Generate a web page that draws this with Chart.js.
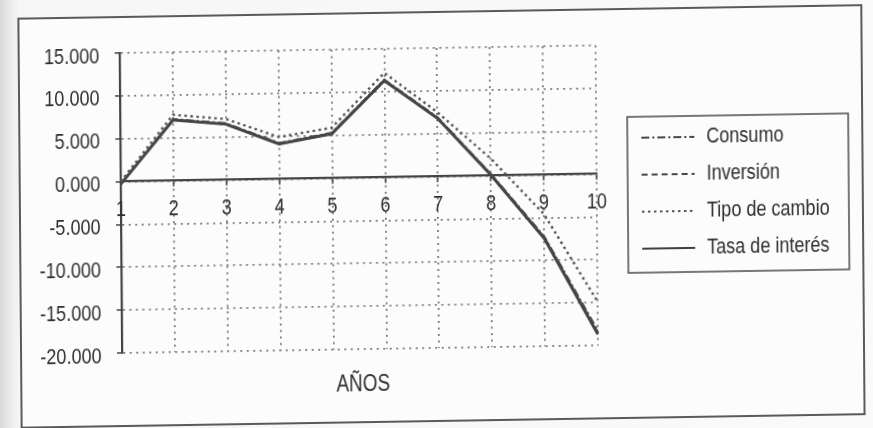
<!DOCTYPE html>
<html>
<head>
<meta charset="utf-8">
<script src="https://cdn.jsdelivr.net/npm/chart.js@4.4.1/dist/chart.umd.min.js"></script>
<style>
  html, body { margin: 0; padding: 0; }
  body {
    width: 873px; height: 428px; overflow: hidden;
    background: linear-gradient(to right, #d9d9d9 0px, #e9e9e9 9px, #f6f6f6 20px, #fafafa 100%);
  }
  #wrap {
    position: absolute; left: 0; top: 0; width: 873px; height: 428px;
    transform-origin: 436.5px 214px;
    transform: matrix(1, -0.016, 0.008, 1, 0, 0);
  }
  canvas { display: block; }
</style>
</head>
<body>
<div id="wrap"><canvas id="chart" width="873" height="428"></canvas></div>
<script>
// Años 1..10
const years = ['1', '2', '3', '4', '5', '6', '7', '8', '9', '10'];

// Respuesta de cada variable
const consumo      = [-0.3, 7.2, 6.6, 4.2, 5.3, 11.4, 6.9, 0.2, -7.2, -18.3];
const inversion    = [-0.3, 7.1, 6.5, 4.1, 5.2, 11.3, 6.8, 0.1, -7.3, -18.5];
const tipoCambio   = [0.0, 7.7, 7.1, 4.9, 5.9, 12.2, 7.5, 2.0, -4.6, -14.9];
const tasaInteres  = [-0.3, 7.1, 6.5, 4.1, 5.2, 11.3, 6.8, 0.1, -7.4, -18.7];

// Eje vertical
const yTicks = [15, 10, 5, 0, -5, -10, -15, -20];

const FONT = "'Liberation Sans', Arial, sans-serif";
const NARROW = 0.82;          // tipografía condensada
const TEXT = '#2e2e2e';
const LINE = '#474747';
const GRID = '#7c7c7c';

Chart.defaults.font.family = FONT;
Chart.defaults.color = TEXT;

// Texto condensado horizontalmente
function narrowText(ctx, text, x, y, size, align) {
  ctx.save();
  ctx.font = size + 'px ' + FONT;
  ctx.fillStyle = TEXT;
  ctx.translate(x, y);
  ctx.scale(NARROW, 1);
  ctx.textAlign = align;
  ctx.textBaseline = 'middle';
  ctx.fillText(text, 0, 0);
  ctx.restore();
}

const decorations = {
  id: 'decorations',
  beforeDraw(chart) {
    const ctx = chart.ctx;
    ctx.save();
    ctx.fillStyle = '#fcfcfc';
    ctx.fillRect(20, 12, 843, 409);
    ctx.strokeStyle = '#5a5a5a';
    ctx.lineWidth = 2;
    ctx.strokeRect(20, 12, 843, 409);
    ctx.restore();
  },
  afterDraw(chart) {
    const ctx = chart.ctx;
    const area = chart.chartArea;
    const xs = chart.scales.x;
    const ys = chart.scales.y;
    const zeroY = ys.getPixelForValue(0);

    // etiquetas del eje vertical
    ys.ticks.forEach(t => {
      narrowText(ctx, Number(t.value).toFixed(3), area.left - 20.5, ys.getPixelForValue(t.value) + 3.5, 22, 'right');
    });
    // etiquetas del eje horizontal (bajo la línea del cero)
    chart.data.labels.forEach((lab, i) => {
      narrowText(ctx, lab, xs.getPixelForValue(i), zeroY + 28, 22, 'center');
    });
    // título del eje horizontal
    narrowText(ctx, 'AÑOS', (area.left + area.right) / 2 + 3, 384, 23, 'center');

    // leyenda
    ctx.save();
    ctx.strokeStyle = '#555';
    ctx.lineWidth = 1.6;
    ctx.setLineDash([]);
    ctx.strokeRect(628, 120, 221, 156);
    chart.data.datasets.forEach((ds, i) => {
      const y = 141 + i * 37;
      ctx.beginPath();
      ctx.strokeStyle = ds.borderColor;
      ctx.lineWidth = Math.min(ds.borderWidth, 2);
      ctx.setLineDash(ds.borderDash || []);
      ctx.moveTo(642, y);
      ctx.lineTo(695, y);
      ctx.stroke();
      ctx.setLineDash([]);
      narrowText(ctx, ds.label, 707, y, 22, 'left');
    });
    ctx.restore();
  }
};

new Chart(document.getElementById('chart'), {
  type: 'line',
  data: {
    labels: years,
    datasets: [
      { label: 'Consumo', data: consumo, borderColor: LINE, borderWidth: 2.2, borderDash: [8, 3, 2, 3] },
      { label: 'Inversión', data: inversion, borderColor: LINE, borderWidth: 2.2, borderDash: [6, 4] },
      { label: 'Tipo de cambio', data: tipoCambio, borderColor: '#555', borderWidth: 2.4, borderDash: [2.5, 3.5] },
      { label: 'Tasa de interés', data: tasaInteres, borderColor: '#404040', borderWidth: 3 }
    ]
  },
  options: {
    responsive: false,
    animation: false,
    devicePixelRatio: 1,
    elements: { point: { radius: 0 }, line: { tension: 0 } },
    layout: { padding: { left: 0, top: 48, right: 276, bottom: 80 } },
    plugins: { legend: { display: false }, tooltip: { enabled: false } },
    scales: {
      x: {
        type: 'category',
        position: { y: 0 },
        offset: false,
        grid: { color: GRID, lineWidth: 1.8, tickLength: 5, tickColor: '#444', tickWidth: 1.5, tickBorderDash: [] },
        border: { display: true, color: '#444', width: 2.2, dash: [2, 4.5] },
        ticks: { display: false, autoSkip: false }
      },
      y: {
        min: -20,
        max: 15,
        afterBuildTicks(scale) { scale.ticks = yTicks.map(v => ({ value: v })); },
        afterFit(scale) { scale.width = 121; },
        grid: { color: GRID, lineWidth: 1.8, tickLength: 5, tickColor: '#444', tickWidth: 1.5, tickBorderDash: [] },
        border: { display: true, color: '#444', width: 2.2, dash: [2, 4.5] },
        ticks: { display: false }
      }
    }
  },
  plugins: [decorations]
});
</script>
</body>
</html>
